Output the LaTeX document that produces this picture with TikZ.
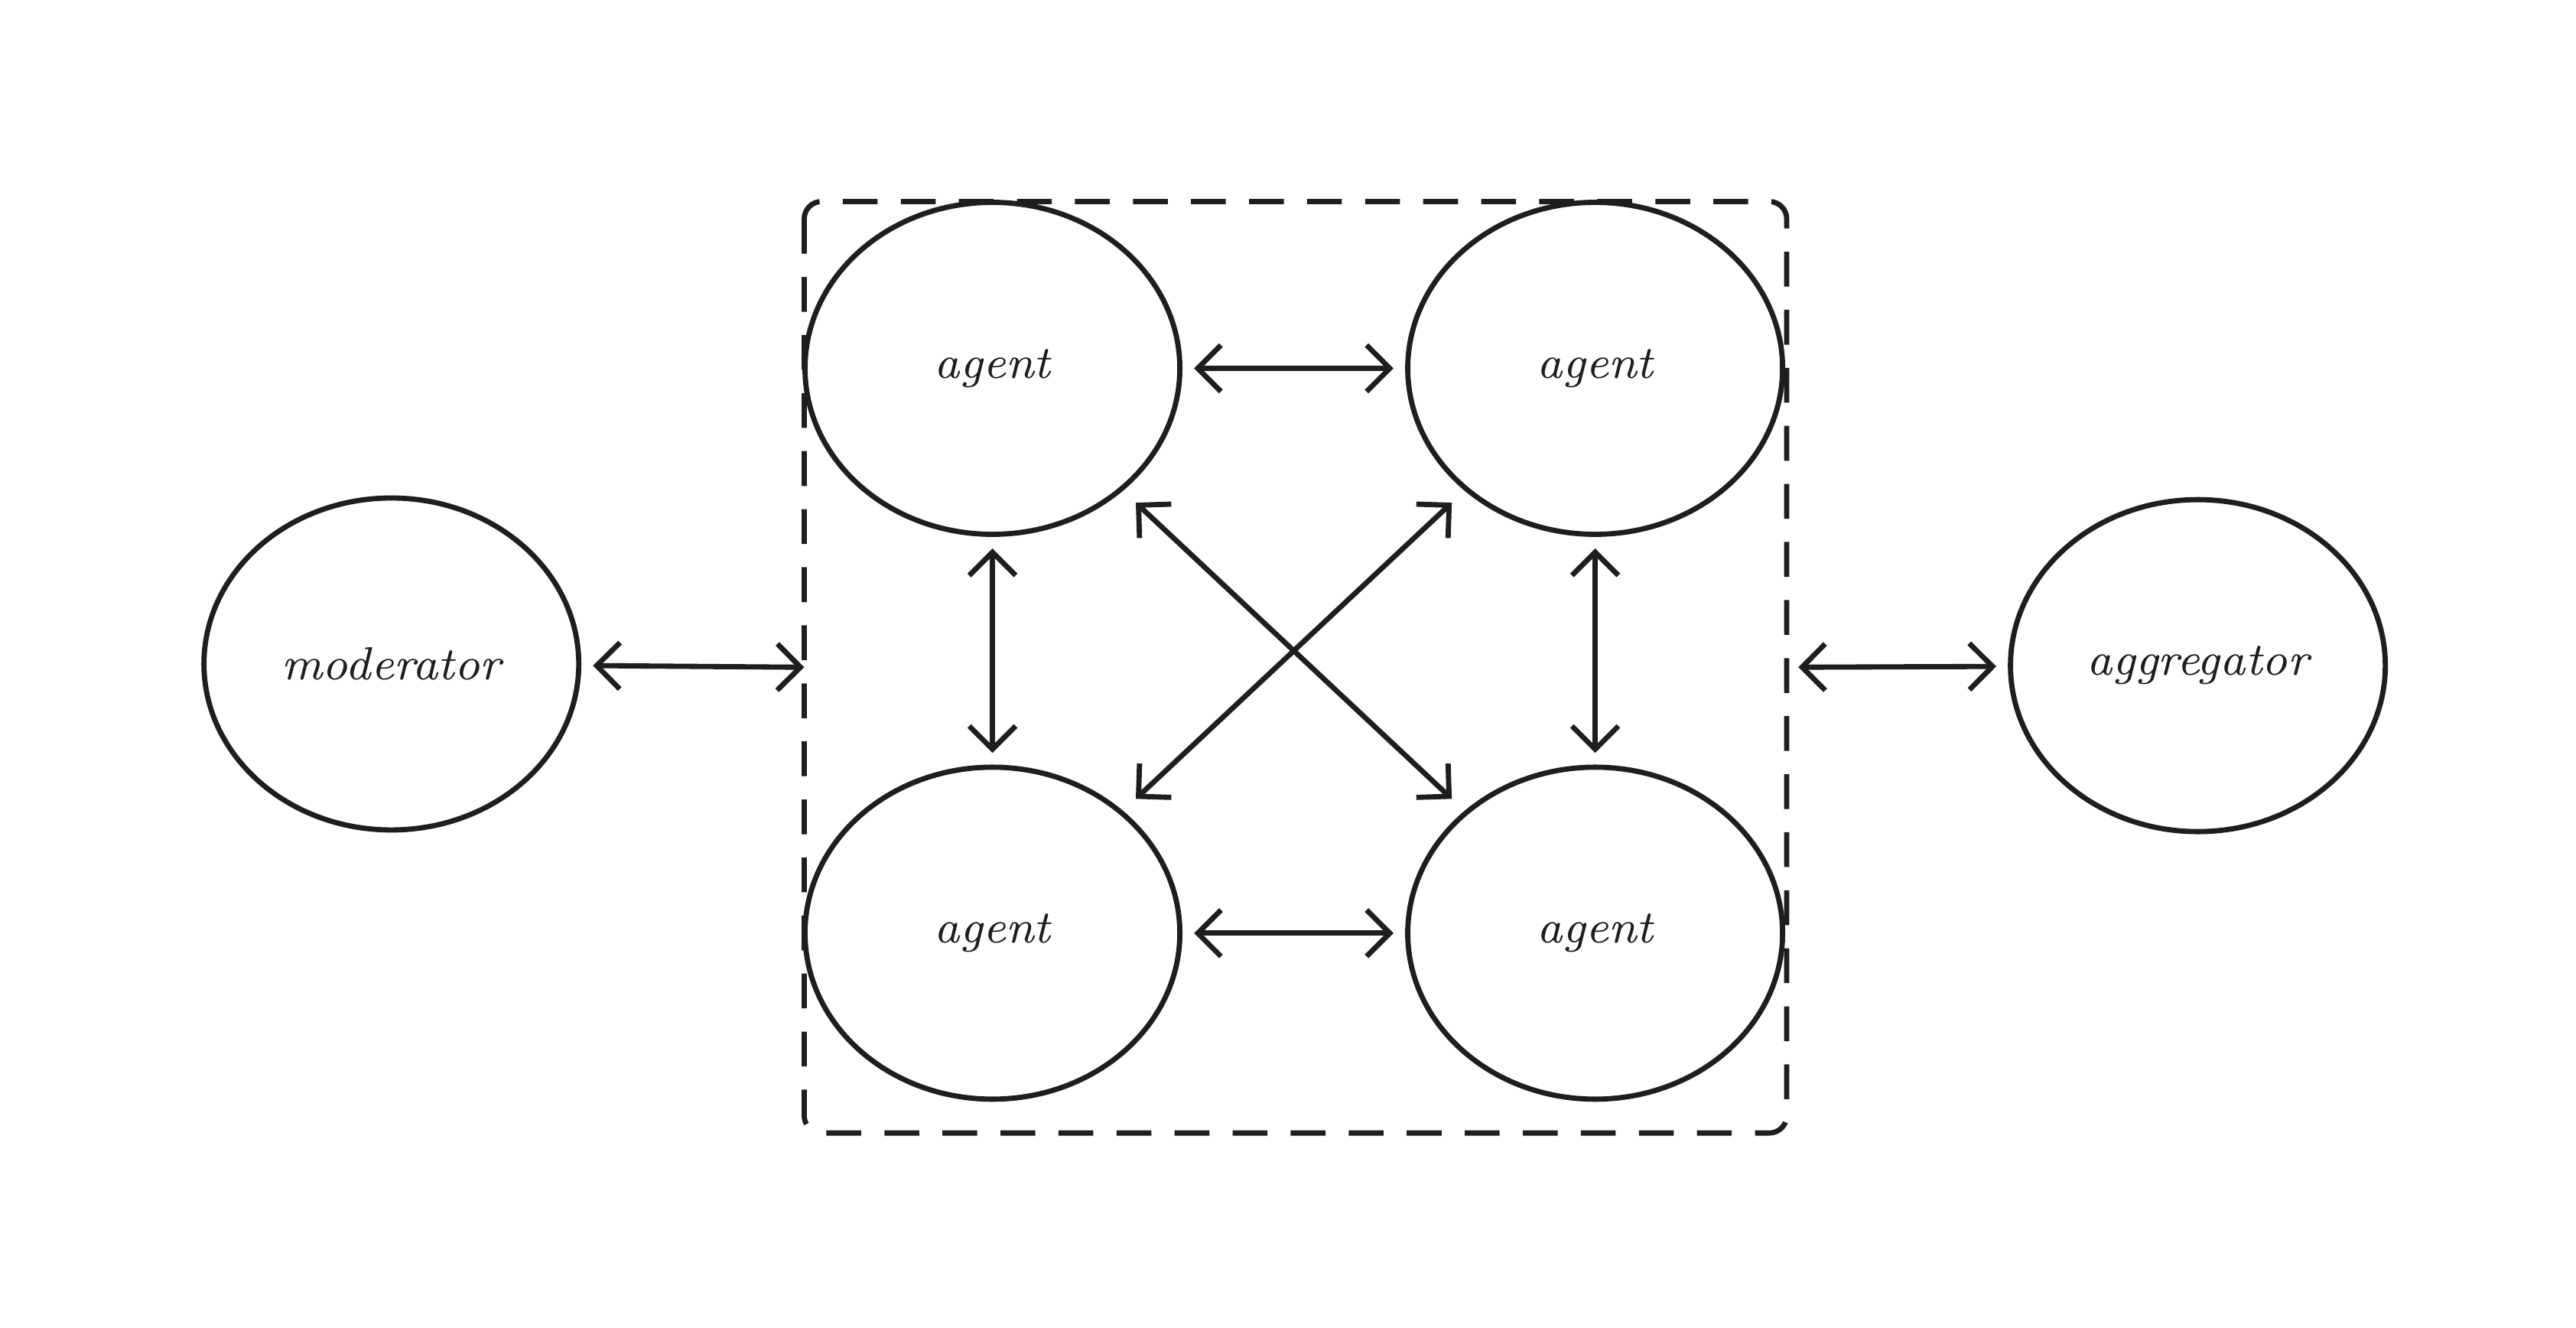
\documentclass[tikz,border=0pt]{standalone}
\usetikzlibrary{shapes.geometric}
\usetikzlibrary{arrows.meta}
\definecolor{ink}{HTML}{1E1E1E}
\begin{document}
\begin{tikzpicture}[line width=0.9pt, draw=ink,
    role/.style={ellipse, draw=ink, minimum width=2.27cm, minimum height=2.01cm, font=\footnotesize\itshape, text=ink},
    link/.style={{Straight Barb[length=4pt,width=8pt]}-{Straight Barb[length=4pt,width=8pt]}}]
    \useasboundingbox (0,0) rectangle (15.6,-8.04);
    \draw[dashed, dash pattern=on 6pt off 4pt, rounded corners=3pt] (4.87,-1.22) rectangle (10.82,-6.86);
    \coordinate (boxW) at (4.87,-4.04);
    \coordinate (boxE) at (10.82,-4.04);
    \node[role] (mod) at (2.37,-4.02) {moderator};
    \node[role] (agg) at (13.31,-4.03) {aggregator};
    \node[role] (a1) at (6.01,-2.23) {agent};
    \node[role] (a2) at (9.66,-2.23) {agent};
    \node[role] (a3) at (6.01,-5.65) {agent};
    \node[role] (a4) at (9.66,-5.65) {agent};
    % links between agents
    \draw[link, shorten <=2pt, shorten >=2pt] (a1) -- (a2);
    \draw[link, shorten <=2pt, shorten >=2pt] (a3) -- (a4);
    \draw[link, shorten <=2pt, shorten >=2pt] (a1) -- (a3);
    \draw[link, shorten <=2pt, shorten >=2pt] (a2) -- (a4);
    \draw[link, shorten <=3pt, shorten >=3pt] (a1) -- (a4);
    \draw[link, shorten <=3pt, shorten >=3pt] (a2) -- (a3);
    % outside
    \draw[link, shorten <=2pt] (mod) -- (boxW);
    \draw[link, shorten <=2pt, shorten >=2pt] (boxE) -- (agg);
\end{tikzpicture}
\end{document}
